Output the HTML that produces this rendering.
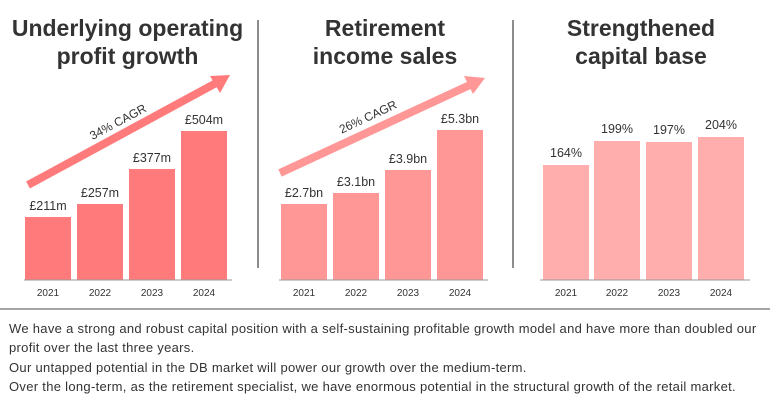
<!DOCTYPE html>
<html><head><style>
body{margin:0;width:770px;height:408px;background:#fff;font-family:"Liberation Sans",sans-serif;color:#333;position:relative;overflow:hidden}
.t{position:absolute;text-align:center;font-weight:bold;font-size:23px;line-height:28px;color:#333}
.p{position:absolute;left:9px;font-size:13px;letter-spacing:0.3px;color:#333;line-height:19px;width:760px;white-space:nowrap}
</style></head><body>
<div class="t" style="left:0;width:255px;top:14px">Underlying operating<br>profit growth</div>
<div class="t" style="left:258px;width:254px;top:14px">Retirement<br>income sales</div>
<div class="t" style="left:512px;width:258px;top:14px">Strengthened<br>capital base</div>
<svg width="770" height="408" style="position:absolute;left:0;top:0" font-family="Liberation Sans, sans-serif" font-size="12" fill="#333">
<line x1="258" y1="20" x2="258" y2="268" stroke="#666" stroke-width="1.5"/>
<line x1="513" y1="20" x2="513" y2="268" stroke="#666" stroke-width="1.5"/>
<line x1="0" y1="309" x2="770" y2="309" stroke="#888" stroke-width="1.5"/>
<g fill="#ff7b7b">
<rect x="25" y="217" width="46" height="63"/><rect x="77" y="204" width="46" height="76"/>
<rect x="129" y="169" width="46" height="111"/><rect x="181" y="131" width="46" height="149"/>
</g>
<line x1="24" y1="280" x2="232" y2="280" stroke="#999"/>
<line x1="28" y1="185" x2="218" y2="82" stroke="#ff7b7b" stroke-width="8"/>
<polygon points="230,75 210,76 220,93" fill="#ff7b7b"/>
<text x="118" y="126" text-anchor="middle" transform="rotate(-28 118 122)" font-size="12">34% CAGR</text>
<g text-anchor="middle" font-size="12.5"><text x="48" y="210">£211m</text><text x="100" y="197">£257m</text><text x="152" y="162">£377m</text><text x="204" y="124">£504m</text></g>
<g text-anchor="middle" font-size="10"><text x="48" y="296">2021</text><text x="100" y="296">2022</text><text x="152" y="296">2023</text><text x="204" y="296">2024</text></g>
<g fill="#ff9797">
<rect x="281" y="204" width="46" height="76"/><rect x="333" y="193" width="46" height="87"/>
<rect x="385" y="170" width="46" height="110"/><rect x="437" y="130" width="46" height="150"/>
</g>
<line x1="279" y1="280" x2="488" y2="280" stroke="#999"/>
<line x1="280" y1="173" x2="472" y2="84" stroke="#ff9797" stroke-width="8"/>
<polygon points="485,78 464,76 473,94" fill="#ff9797"/>
<text x="368" y="121" text-anchor="middle" transform="rotate(-25 368 117)" font-size="12">26% CAGR</text>
<g text-anchor="middle" font-size="12.5"><text x="304" y="197">£2.7bn</text><text x="356" y="186">£3.1bn</text><text x="408" y="163">£3.9bn</text><text x="460" y="123">£5.3bn</text></g>
<g text-anchor="middle" font-size="10"><text x="304" y="296">2021</text><text x="356" y="296">2022</text><text x="408" y="296">2023</text><text x="460" y="296">2024</text></g>
<g fill="#ffadad">
<rect x="543" y="165" width="46" height="115"/><rect x="594" y="141" width="46" height="139"/>
<rect x="646" y="142" width="46" height="138"/><rect x="698" y="137" width="46" height="143"/>
</g>
<line x1="540" y1="280" x2="750" y2="280" stroke="#999"/>
<g text-anchor="middle" font-size="12.5"><text x="566" y="157">164%</text><text x="617" y="133">199%</text><text x="669" y="134">197%</text><text x="721" y="129">204%</text></g>
<g text-anchor="middle" font-size="10"><text x="566" y="296">2021</text><text x="617" y="296">2022</text><text x="669" y="296">2023</text><text x="721" y="296">2024</text></g>
</svg>
<div class="p" style="top:319px">We have a strong and robust capital position with a self-sustaining profitable growth model and have more than doubled our<br>profit over the last three years.</div>
<div class="p" style="top:358px">Our untapped potential in the DB market will power our growth over the medium-term.</div>
<div class="p" style="top:377px">Over the long-term, as the retirement specialist, we have enormous potential in the structural growth of the retail market.</div>
</body></html>
